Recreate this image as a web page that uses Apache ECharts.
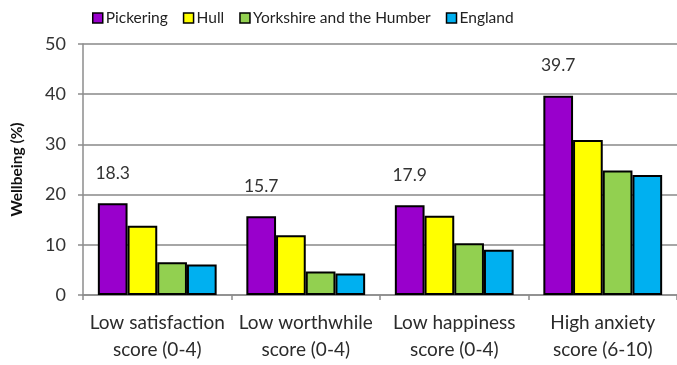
<!DOCTYPE html>
<html>
<head>
<meta charset="utf-8">
<script src="https://cdn.jsdelivr.net/npm/echarts@6/dist/echarts.min.js"></script>
<style>
  html, body { margin: 0; padding: 0; background: #fff; }
  #chart { width: 677px; height: 365px; }
</style>
</head>
<body>
<div id="chart"></div>
<script>
// Wellbeing indicators by area
const categories = [
  'Low satisfaction\nscore (0-4)',
  'Low worthwhile\nscore (0-4)',
  'Low happiness\nscore (0-4)',
  'High anxiety\nscore (6-10)'
];
const pickering = [18.3, 15.7, 17.9, 39.7];
const hull = [13.8, 11.9, 15.8, 30.9];
const yorkshire = [6.5, 4.7, 10.3, 24.8];
const england = [6.1, 4.3, 9.0, 23.9];
const yTicks = [0, 10, 20, 30, 40, 50];

const FONT = 'Lato';
const seriesDefs = [
  { name: 'Pickering', data: pickering, color: '#9900CC', label: true },
  { name: 'Hull', data: hull, color: '#FFFF00' },
  { name: 'Yorkshire and the Humber', data: yorkshire, color: '#92D050' },
  { name: 'England', data: england, color: '#00B0F0' }
];

const chart = echarts.init(document.getElementById('chart'));
chart.setOption({
  animation: false,
  textStyle: { fontFamily: FONT },
  legend: {
    top: 5,
    left: 87,
    itemWidth: 10,
    itemHeight: 10,
    itemGap: 15,
    icon: 'rect',
    textStyle: { fontFamily: FONT, fontSize: 15.5, color: '#222', padding: [0, 0, 0, -2] },
    data: seriesDefs.map(s => ({ name: s.name, itemStyle: { borderColor: '#000', borderWidth: 1.5 } }))
  },
  grid: { left: 83, right: 0, top: 44, bottom: 70, containLabel: false },
  xAxis: {
    type: 'category',
    data: categories,
    axisLine: { lineStyle: { color: '#8c8c8c', width: 1.5 } },
    axisTick: { show: true, length: 5, lineStyle: { color: '#8c8c8c', width: 1.5 } },
    axisLabel: { fontFamily: FONT, fontSize: 19, color: '#2b2b2b', lineHeight: 27, margin: 14, interval: 0 }
  },
  yAxis: {
    type: 'value',
    min: yTicks[0],
    max: yTicks[yTicks.length - 1],
    interval: yTicks[1] - yTicks[0],
    name: 'Wellbeing (%)',
    nameLocation: 'middle',
    nameGap: 58,
    nameTextStyle: { fontFamily: FONT, fontSize: 15.5, fontWeight: 'bold', color: '#111' },
    axisLine: { show: true, lineStyle: { color: '#8c8c8c', width: 1.5 } },
    axisTick: { show: true, length: 5, lineStyle: { color: '#8c8c8c', width: 1.5 } },
    axisLabel: { fontFamily: FONT, fontSize: 18, color: '#333', margin: 17 },
    splitLine: { lineStyle: { color: '#a6a6a6', width: 1.8 } }
  },
  series: seriesDefs.map(s => ({
    type: 'bar',
    name: s.name,
    data: s.data,
    barGap: '0%',
    barCategoryGap: '20%',
    itemStyle: { color: s.color, borderColor: '#000', borderWidth: 2 },
    label: s.label ? {
      show: true,
      position: 'top',
      distance: 21,
      fontFamily: FONT,
      fontSize: 17.5,
      color: '#333',
      formatter: p => p.value.toFixed(1)
    } : { show: false }
  }))
});
</script>
</body>
</html>
